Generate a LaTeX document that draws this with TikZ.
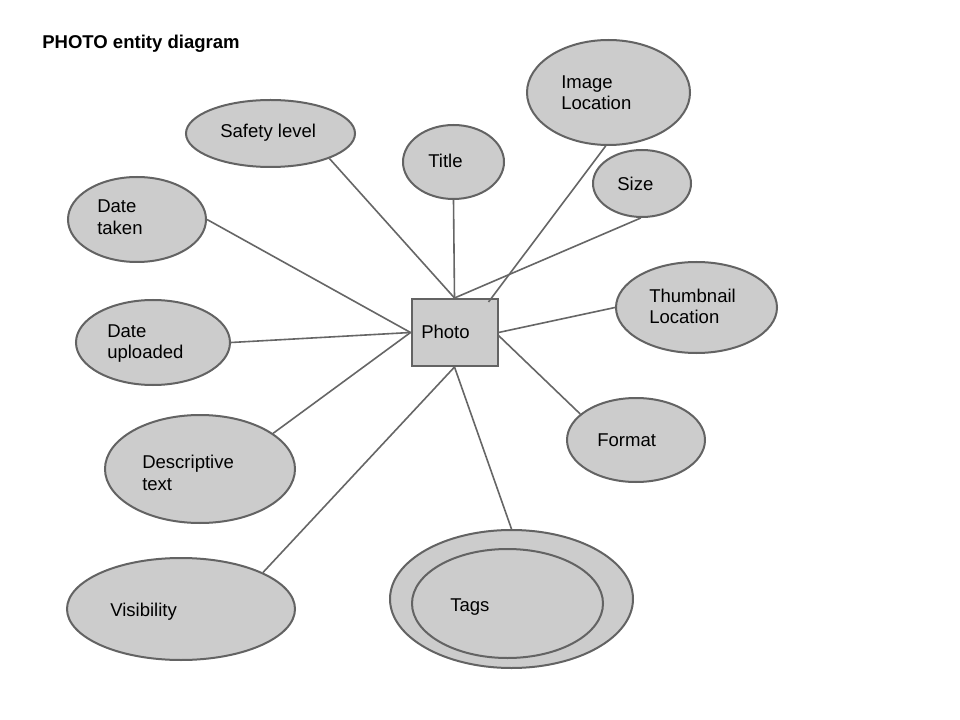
\documentclass[tikz,border=0pt]{standalone}
\usepackage{fontspec}
\setmainfont{Liberation Sans}
\usetikzlibrary{shapes.geometric,calc}
\definecolor{shapefill}{HTML}{CCCCCC}
\definecolor{shapeline}{HTML}{636363}
\definecolor{connline}{HTML}{666666}
\begin{document}
\begin{tikzpicture}[x=0.75pt,y=-0.75pt,
  ell/.style 2 args={ellipse, draw=shapeline, fill=shapefill, line width=1.5pt, inner sep=0pt,
    minimum width=#1*0.75pt, minimum height=#2*0.75pt},
  boxshape/.style={rectangle, draw=shapeline, fill=shapefill, line width=1.5pt, inner sep=0pt,
    minimum width=86*0.75pt, minimum height=67*0.75pt},
  lbl/.style={anchor=base west, inner sep=0pt, font=\fontsize{13.9}{16.5}\selectfont},
  conn/.style={draw=connline, line width=1.2pt},
]
\useasboundingbox[fill=white] (0,0) rectangle (960,720);
\node[lbl, font=\fontsize{13.9}{16.5}\selectfont\bfseries] (heading) at (42,49) {PHOTO entity diagram};

% entities
\node[boxshape] (photo) at (454.5,332.5) {};
\node[ell={169}{67}] (safety) at (270.5,133.5) {};
\node[ell={101}{74}] (title) at (453.5,162) {};
\node[ell={163}{105}] (imageloc) at (608.5,92.5) {};
\node[ell={98}{67}] (size) at (642,183.5) {};
\node[ell={138}{85}] (datetaken) at (137,219.5) {};
\node[ell={161}{91}] (thumb) at (696.5,307.5) {};
\node[ell={154}{85}] (dateup) at (153,342.5) {};
\node[ell={138}{84}] (format) at (636,440) {};
\node[ell={190}{108}] (descr) at (200,469) {};
\node[ell={228}{102}] (visib) at (181,609) {};
\node[ell={243}{138}] (tagsout) at (511.5,599) {};
\node[ell={191}{109}] (tagsin) at (507.5,603.5) {};

% labels
\node[lbl] (tphoto) at (421,338) {Photo};
\node[lbl] (tsafety) at (220,138) {Safety level};
\node[lbl] (ttitle) at (428,168) {Title};
\node[lbl] (timage1) at (561,89) {Image};
\node[lbl] (timage2) at (561,110) {Location};
\node[lbl] (tsize) at (617,191) {Size};
\node[lbl] (tdt1) at (97,213) {Date};
\node[lbl] (tdt2) at (97,235) {taken};
\node[lbl] (tth1) at (649,302) {Thumbnail};
\node[lbl] (tth2) at (649,324) {Location};
\node[lbl] (tdu1) at (107,337) {Date};
\node[lbl] (tdu2) at (107,358) {uploaded};
\node[lbl] (tformat) at (597,446) {Format};
\node[lbl] (tde1) at (142,468) {Descriptive};
\node[lbl] (tde2) at (142,490) {text};
\node[lbl] (tvis) at (110,616) {Visibility};
\node[lbl] (ttags) at (450,611) {Tags};

% connectors
\draw[conn] (safety.-23) -- (photo.north);
\draw[conn] (title.south) -- (photo.north);
\draw[conn] (size.-92) -- (photo.north);
\draw[conn] (imageloc.-93) -- ($(photo.north east)+(-10,4)$);
\draw[conn] (datetaken.east) -- (photo.west);
\draw[conn] (dateup.east) -- (photo.west);
\draw[conn] (descr.26) -- (photo.west);
\draw[conn] (thumb.west) -- (photo.east);
\draw[conn] (format.155) -- ($(photo.east)+(0,3)$);
\draw[conn] (visib.24) -- (photo.south);
\draw[conn] (tagsout.north) -- (photo.south);
\end{tikzpicture}
\end{document}
